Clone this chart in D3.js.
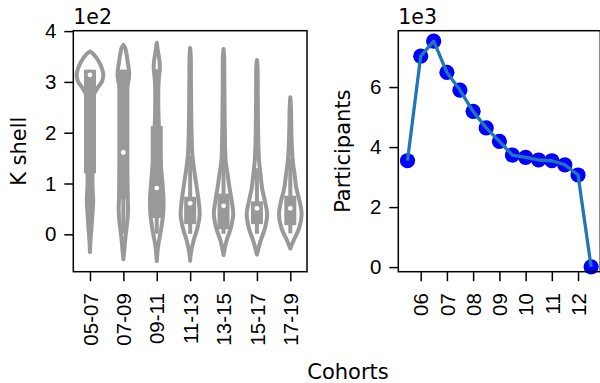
<!DOCTYPE html>
<html>
<head>
<meta charset="utf-8">
<script src="https://cdn.jsdelivr.net/npm/d3@7"></script>
<style>
  body { margin: 0; background: #fff; }
  svg { display: block; font-family: "DejaVu Sans", sans-serif; }
  .axis line { stroke: #000; stroke-width: 1.5; }
  .axis text { font-size: 20.5px; fill: #000; }
  .label { font-size: 21px; fill: #000; }
</style>
</head>
<body>
<div id="chart"></div>
<script>
// left panel: K shell per cohort (values in K shell units)
const cohorts = ["05-07", "07-09", "09-11", "11-13", "13-15", "15-17", "17-19"];
const kMedian = [314, 161, 91, 61, 56, 51, 51];
const kQ1 = [120, 70, 32, 20, 10, 20, 18];
const kQ3 = [324, 324, 213, 74, 80, 65, 76];
const kWhiskerLo = [1, 1, 1, 1, 1, 1, 2];
const kWhiskerHi = [324, 324, 325, 155, 184, 130, 150];
// violin outline per cohort: [K shell value, half width in category units]
const kDensity = [
  [[360, 0], [354, .11], [341, .255], [327, .354], [314, .40], [301, .36], [288, .225], [275, .12], [260, .09], [220, .078], [180, .075], [140, .072], [110, .072], [90, .078], [66, .096], [39, .072], [10, .042], [-13, .015], [-35, 0]],
  [[373, 0], [367, .054], [354, .096], [341, .126], [327, .159], [314, .174], [301, .15], [288, .105], [260, .09], [220, .09], [180, .096], [140, .105], [100, .115], [70, .13], [50, .14], [30, .125], [10, .09], [-10, .055], [-30, .028], [-49, 0]],
  [[377, 0], [360, .036], [340, .084], [325, .09], [310, .066], [290, .048], [260, .045], [230, .054], [200, .069], [170, .09], [144, .114], [120, .144], [98, .174], [65, .204], [39, .19], [12, .135], [-5, .09], [-25, .036], [-53, 0]],
  [[367, 0], [350, .018], [300, .024], [250, .03], [200, .042], [157, .066], [124, .126], [91, .201], [65, .255], [39, .285], [12, .216], [-14, .096], [-40, .015], [-52, 0]],
  [[365, 0], [350, .018], [300, .024], [250, .03], [200, .039], [144, .065], [117, .125], [91, .18], [65, .246], [39, .29], [12, .216], [-14, .084], [-41, 0]],
  [[343, 0], [330, .018], [280, .024], [230, .03], [180, .042], [144, .065], [117, .11], [91, .155], [65, .24], [39, .306], [12, .24], [-14, .105], [-40, 0]],
  [[270, 0], [250, .018], [209, .03], [175, .045], [144, .075], [117, .13], [91, .18], [65, .279], [39, .339], [12, .264], [-14, .084], [-28, 0]],
];
const kTicks = [0, 100, 200, 300, 400];

// right panel: participants per half year
const periods = ["2005-07", "2006-01", "2006-07", "2007-01", "2007-07", "2008-01", "2008-07", "2009-01",
  "2009-07", "2010-01", "2010-07", "2011-01", "2011-07", "2012-01", "2012-07"];
const participants = [3545, 7030, 7530, 6490, 5900, 5190, 4640, 4190, 3735, 3660, 3570, 3545, 3410, 3070, 10];
const yearTicks = ["2006", "2007", "2008", "2009", "2010", "2011", "2012"];
const pTicks = [0, 2000, 4000, 6000];

const width = 600, height = 383;
const gray = "#999999";

const svg = d3.select("#chart").append("svg")
  .attr("width", width)
  .attr("height", height);

// ---------- left: violins ----------
const L = { left: 73.3, right: 307, top: 30.7, bottom: 271.7 };

const x = d3.scaleLinear().domain([-0.5, cohorts.length - 0.5]).range([L.left, L.right]);
const y = d3.scaleLinear().domain([-73.6, 400.8]).range([L.bottom, L.top]);
const bw = x(1) - x(0);

const gLeft = svg.append("g");

cohorts.forEach((c, i) => {
  const cx = x(i);
  const area = d3.area()
    .curve(d3.curveCatmullRom)
    .y(d => y(d[0]))
    .x0(d => cx - d[1] * bw)
    .x1(d => cx + d[1] * bw);

  const g = gLeft.append("g").attr("class", "violin");
  g.append("path")
    .attr("d", area(kDensity[i]))
    .attr("fill", "#fff")
    .attr("stroke", gray)
    .attr("stroke-width", 4)
    .attr("stroke-linejoin", "round");
  g.append("line")
    .attr("x1", cx).attr("x2", cx)
    .attr("y1", y(kWhiskerLo[i])).attr("y2", y(kWhiskerHi[i]))
    .attr("stroke", gray)
    .attr("stroke-width", 4);
  g.append("line")
    .attr("x1", cx).attr("x2", cx)
    .attr("y1", y(kQ1[i])).attr("y2", y(kQ3[i]))
    .attr("stroke", gray)
    .attr("stroke-width", 12);
  g.append("circle")
    .attr("cx", cx)
    .attr("cy", y(kMedian[i]))
    .attr("r", 2.4)
    .attr("fill", "#fff");
});

const gyL = svg.append("g")
  .attr("class", "axis")
  .attr("transform", `translate(${L.left},0)`)
  .call(d3.axisLeft(y).tickValues(kTicks).tickSize(9).tickPadding(8).tickFormat(d => d / 100));
gyL.select(".domain").remove();

const gxL = svg.append("g")
  .attr("class", "axis")
  .attr("transform", `translate(0,${L.bottom})`)
  .call(d3.axisBottom(x).tickValues(d3.range(cohorts.length)).tickSize(9.5).tickFormat(i => cohorts[i]));
gxL.select(".domain").remove();
gxL.selectAll("text")
  .attr("transform", "rotate(-90)")
  .attr("x", -21.5)
  .attr("y", 0)
  .attr("dy", "0.35em")
  .style("text-anchor", "end");

svg.append("rect")
  .attr("x", L.left).attr("y", L.top)
  .attr("width", L.right - L.left).attr("height", L.bottom - L.top)
  .attr("fill", "none").attr("stroke", "#000").attr("stroke-width", 1.5);

svg.append("text").attr("class", "label")
  .attr("x", L.left).attr("y", 23.5)
  .style("font-size", "20.5px")
  .text("1e2");

svg.append("text").attr("class", "label")
  .attr("transform", `translate(25.5,${(L.top + L.bottom) / 2}) rotate(-90)`)
  .attr("text-anchor", "middle")
  .text("K shell");

// ---------- right: participants ----------
const R = { left: 398.3, right: 600.3, top: 30.7, bottom: 271.7 };
const parse = d3.timeParse("%Y-%m");
const dates = periods.map(parse);
const [t0, t1] = d3.extent(dates);
const pad = (t1 - t0) * 0.05;

const xR = d3.scaleTime().domain([new Date(+t0 - pad), new Date(+t1 + pad)]).range([R.left, R.right]);
const yR = d3.scaleLinear().domain([-153, 7878]).range([R.bottom, R.top]);

const gRight = svg.append("g");

gRight.selectAll("circle")
  .data(participants)
  .join("circle")
  .attr("cx", (d, i) => xR(dates[i]))
  .attr("cy", d => yR(d))
  .attr("r", 7.6)
  .attr("fill", "#0000ff");

gRight.append("path")
  .datum(participants)
  .attr("d", d3.line().x((d, i) => xR(dates[i])).y(d => yR(d)))
  .attr("fill", "none")
  .attr("stroke", "#1f77b4")
  .attr("stroke-width", 3.3)
  .attr("stroke-linejoin", "round");

const gyR = svg.append("g")
  .attr("class", "axis")
  .attr("transform", `translate(${R.left},0)`)
  .call(d3.axisLeft(yR).tickValues(pTicks).tickSize(9).tickPadding(8).tickFormat(d => d / 1000));
gyR.select(".domain").remove();

const gxR = svg.append("g")
  .attr("class", "axis")
  .attr("transform", `translate(0,${R.bottom})`)
  .call(d3.axisBottom(xR).tickValues(yearTicks.map(d3.timeParse("%Y"))).tickSize(9.5).tickFormat(d3.timeFormat("%y")));
gxR.select(".domain").remove();
gxR.selectAll("text")
  .attr("transform", "rotate(-90)")
  .attr("x", -21.5)
  .attr("y", 0)
  .attr("dy", "0.35em")
  .style("text-anchor", "end");

svg.append("rect")
  .attr("x", R.left).attr("y", R.top)
  .attr("width", R.right - R.left).attr("height", R.bottom - R.top)
  .attr("fill", "none").attr("stroke", "#000").attr("stroke-width", 1.5);

svg.append("text").attr("class", "label")
  .attr("x", R.left).attr("y", 23.5)
  .style("font-size", "20.5px")
  .text("1e3");

svg.append("text").attr("class", "label")
  .attr("transform", `translate(349.5,${(R.top + R.bottom) / 2}) rotate(-90)`)
  .attr("text-anchor", "middle")
  .text("Participants");

svg.append("text").attr("class", "label")
  .attr("x", 348).attr("y", 379)
  .attr("text-anchor", "middle")
  .text("Cohorts");
</script>
</body>
</html>
